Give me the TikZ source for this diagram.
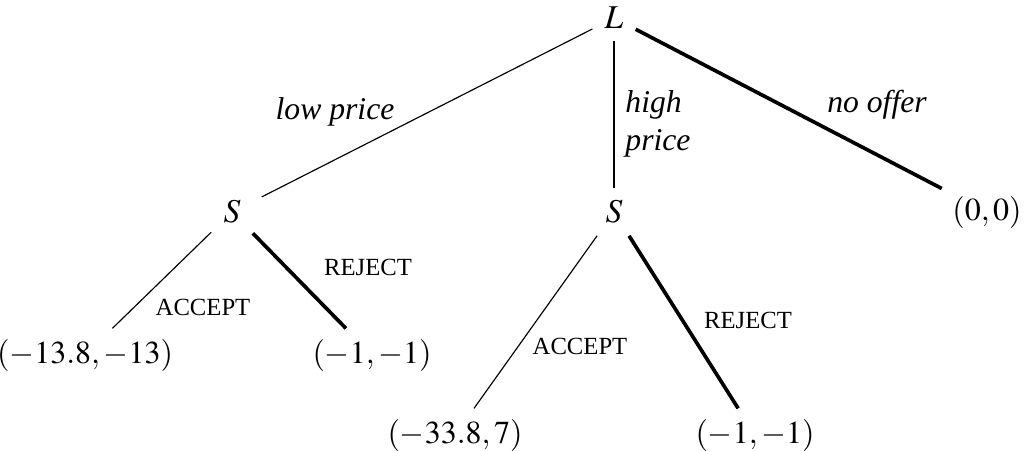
\documentclass[tikz,border=0pt]{standalone}
\usepackage{mathptmx}
\usepackage{fontspec}
\setmainfont{Liberation Serif}
\begin{document}
\begin{tikzpicture}[x=0.3pt,y=-0.3pt,
  pl/.style={inner sep=3.5pt,font=\fontsize{10}{12}\selectfont},
  pay/.style={inner sep=3pt,font=\fontsize{9.6}{12}\selectfont},
  thin edge/.style={line width=0.35pt},
  thick edge/.style={line width=1.1pt},
  mv/.style={font=\fontsize{9.5}{11.5}\selectfont\itshape},
  act/.style={font=\fontsize{7.4}{8}\selectfont}]
\useasboundingbox (0,0) rectangle (1026,450);
\node[pl] (L) at (614,18) {$L$};
\node[pl] (S1) at (232,212) {$S$};
\node[pl] (S2) at (614,212) {$S$};
\node[pay] (P0) at (987,212) {$(0,0)$};
\node[pay] (P1) at (85,355) {$(-13.8,-13)$};
\node[pay] (P2) at (372,355) {$(-1,-1)$};
\node[pay] (P3) at (455,435) {$(-33.8,7)$};
\node[pay] (P4) at (755,435) {$(-1,-1)$};
\draw[thin edge,shorten >=3pt] (L) -- (S1);
\draw[thin edge] (L) -- (S2);
\draw[thick edge] (L) -- (P0);
\draw[thin edge] (S1) -- (P1);
\draw[thick edge] (S1) -- (P2);
\draw[thin edge] (S2) -- (P3);
\draw[thick edge] (S2) -- (P4);
\node[mv] (m1) at (335,112) {low price};
\node[mv,align=left] (m2) at (658,124) {high\\price};
\node[mv] (m3) at (877,105) {no offer};
\node[act] (a1) at (203,307) {ACCEPT};
\node[act] (r1) at (368,267) {REJECT};
\node[act] (a2) at (580,346) {ACCEPT};
\node[act] (r2) at (748,320) {REJECT};
\end{tikzpicture}
\end{document}
